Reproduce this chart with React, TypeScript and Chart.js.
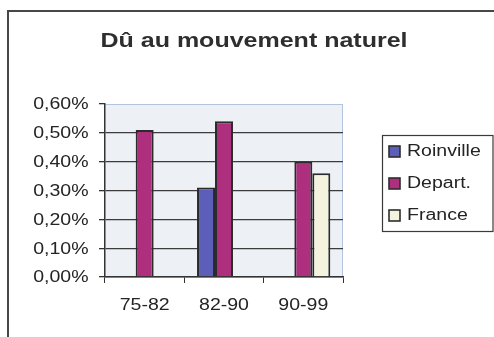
import React, { useEffect, useRef } from "react";
import { Chart, registerables } from "chart.js";

Chart.register(...registerables);

// Chart content
const chartTitle = "Dû au mouvement naturel";
const periods = ["75-82", "82-90", "90-99"];
const seriesNames = ["Roinville", "Depart.", "France"];
const roinvilleValues: (number | null)[] = [null, 0.31, null];
const departValues: (number | null)[] = [0.51, 0.54, 0.4];
const franceValues: (number | null)[] = [null, null, 0.36];
const seriesColors = ["#5b5fb8", "#ad2f7e", "#f3f3de"];
const yMax = 0.6;
const yStep = 0.1;

const W = 494;
const H = 337;
const FONT = '"Liberation Sans", Arial, sans-serif';
const TEXT_SX = 1.22; // text is drawn slightly wide
const TEXT_COLOR = "#242424";

const formatPct = (v: number) => v.toFixed(2).replace(".", ",") + "%";

function wideText(
  ctx: CanvasRenderingContext2D,
  text: string,
  x: number,
  y: number,
  align: CanvasTextAlign,
  font: string,
  sx: number,
  color = TEXT_COLOR
) {
  ctx.save();
  ctx.font = font;
  ctx.fillStyle = color;
  ctx.textBaseline = "middle";
  ctx.textAlign = align;
  ctx.translate(x, y);
  ctx.scale(sx, 1);
  ctx.fillText(text, 0, 0);
  ctx.restore();
}

const decorPlugin = {
  id: "decor",
  beforeDraw(chart: any) {
    const { ctx, chartArea: a } = chart;
    ctx.save();
    ctx.fillStyle = "#ffffff";
    ctx.fillRect(0, 0, W, H);
    // plot area background and its light border
    ctx.fillStyle = "#edf0f5";
    ctx.fillRect(a.left, a.top, a.right - a.left, a.bottom - a.top);
    ctx.strokeStyle = "#b3c4dc";
    ctx.lineWidth = 1;
    ctx.beginPath();
    ctx.moveTo(a.left, a.top + 0.5);
    ctx.lineTo(a.right - 0.5, a.top + 0.5);
    ctx.lineTo(a.right - 0.5, a.bottom);
    ctx.stroke();
    ctx.restore();
  },
  afterDraw(chart: any) {
    const { ctx } = chart;
    const yScale = chart.scales.y;
    const xScale = chart.scales.x;
    const tickFont = `16px ${FONT}`;

    // y tick labels
    yScale.ticks.forEach((t: any, i: number) => {
      const y = yScale.getPixelForTick(i);
      wideText(ctx, formatPct(t.value), 88.5, y + 1, "right", tickFont, TEXT_SX);
    });

    // category labels
    periods.forEach((p, i) => {
      const x = xScale.getPixelForValue(i);
      wideText(ctx, p, x, 306, "center", tickFont, TEXT_SX);
    });

    // title
    wideText(ctx, chartTitle, 254, 41, "center", `bold 20px ${FONT}`, 1.25, "#2e2e2e");

    // legend box
    ctx.save();
    ctx.strokeStyle = "#3a3a3a";
    ctx.lineWidth = 1.2;
    ctx.strokeRect(382.5, 135.5, 110.5, 96);
    chart.data.datasets.forEach((ds: any, i: number) => {
      const cy = 152 + i * 32;
      ctx.fillStyle = ds.backgroundColor;
      ctx.fillRect(389, cy - 6, 11, 11);
      ctx.strokeStyle = "#2e2e2e";
      ctx.lineWidth = 1.6;
      ctx.strokeRect(389, cy - 6, 11, 11);
      wideText(ctx, ds.label, 407, cy, "left", tickFont, TEXT_SX);
    });
    ctx.restore();

    // outer frame
    ctx.save();
    ctx.strokeStyle = "#474747";
    ctx.lineWidth = 2;
    ctx.beginPath();
    ctx.moveTo(8, H);
    ctx.lineTo(8, 11);
    ctx.lineTo(W, 11);
    ctx.stroke();
    ctx.restore();
  },
};

export default function App() {
  const canvasRef = useRef<HTMLCanvasElement | null>(null);

  useEffect(() => {
    if (!canvasRef.current) return;
    const datasets = [roinvilleValues, departValues, franceValues].map((vals, i) => ({
      label: seriesNames[i],
      data: vals,
      backgroundColor: seriesColors[i],
      borderColor: "#2b2b2b",
      borderWidth: 2,
      borderSkipped: "bottom" as const,
      barPercentage: 1,
      categoryPercentage: 0.68,
    }));

    const chart = new Chart(canvasRef.current, {
      type: "bar",
      data: { labels: periods, datasets },
      options: {
        responsive: false,
        animation: false,
        devicePixelRatio: 1,
        layout: { padding: { top: 104, right: 151, left: 0, bottom: 0 } },
        plugins: {
          legend: { display: false },
          title: { display: false },
          tooltip: { enabled: false },
        },
        scales: {
          x: {
            offset: true,
            afterFit: (s: any) => {
              s.height = 60;
            },
            ticks: { display: false },
            grid: {
              offset: true,
              drawOnChartArea: false,
              drawTicks: true,
              tickLength: 6,
              tickColor: "#333333",
            },
            border: { display: true, color: "#333333", width: 1.5 },
          },
          y: {
            min: 0,
            max: yMax,
            afterFit: (s: any) => {
              s.width = 105;
            },
            ticks: { display: false, stepSize: yStep },
            grid: {
              color: (c: any) =>
                c.tick && Math.abs(c.tick.value - yMax) < 1e-9 ? "rgba(0,0,0,0)" : "#3c3c3c",
              lineWidth: 1.3,
              drawTicks: true,
              tickLength: 6,
              tickColor: "#333333",
            },
            border: { display: true, color: "#333333", width: 1.5 },
          },
        },
      },
      plugins: [decorPlugin],
    });

    return () => chart.destroy();
  }, []);

  return (
    <div style={{ position: "absolute", left: 0, top: 0, width: W, height: H, background: "#fff" }}>
      <canvas ref={canvasRef} width={W} height={H} style={{ display: "block" }} />
    </div>
  );
}
